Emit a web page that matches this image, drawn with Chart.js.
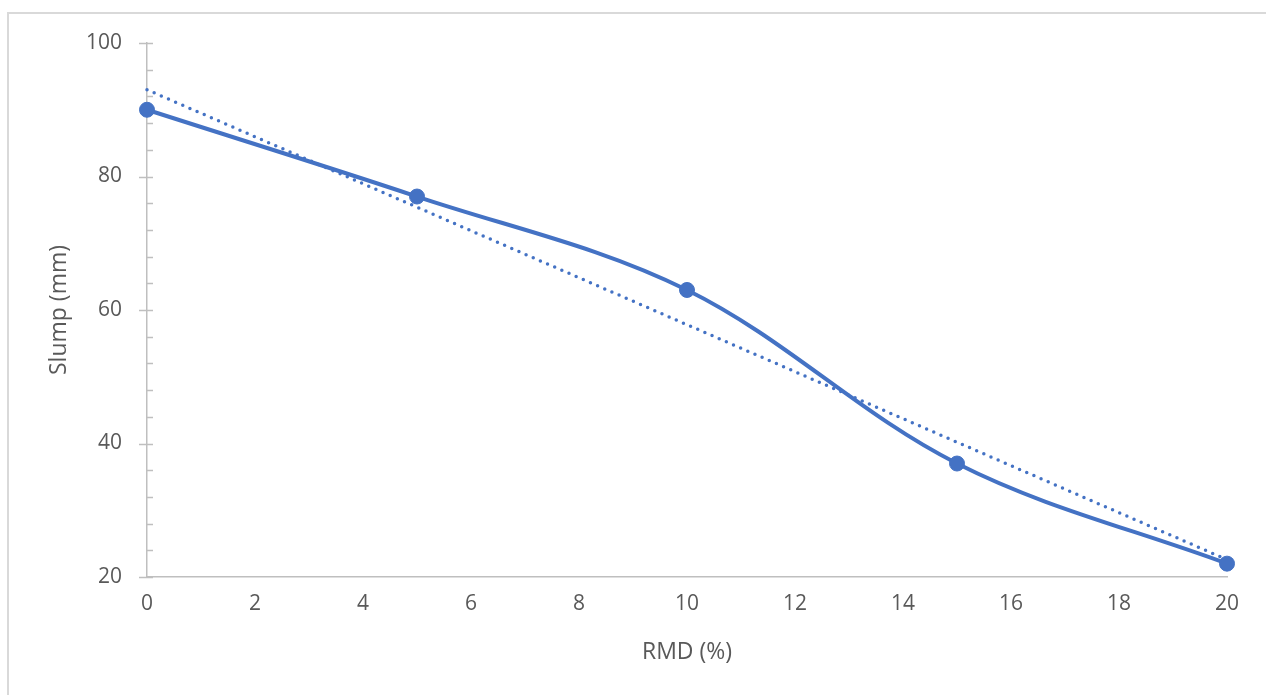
<!DOCTYPE html>
<html>
<head>
<meta charset="utf-8">
<script src="https://cdn.jsdelivr.net/npm/chart.js@4"></script>
<style>
    body { margin: 0; background: #fff; }
    .frame {
        position: absolute; left: 7px; top: 12px; width: 1300px; height: 700px;
        border-top: 2px solid #d9d9d9; border-left: 2px solid #d9d9d9;
    }
    .wrap { position: absolute; left: 0; top: 0; width: 1266px; height: 695px; }
</style>
</head>
<body>
<div class="frame"></div>
<div class="wrap"><canvas id="chart_slump" width="1266" height="695"></canvas></div>
<script>
const rmd = [0, 5, 10, 15, 20];
const slump = [90, 77, 63, 37, 22];
// linear trend end points
const trendX = [0, 20];
const trendY = [93, 22.6];

const blue = '#4472C4';
const grey = '#595959';
const axisGrey = '#BFBFBF';
const tickFont = { family: 'Open Sans', size: 21 };
const titleFont = { family: 'Open Sans', size: 23 };

const toPoints = (xs, ys) => xs.map((x, i) => ({ x: x, y: ys[i] }));

// Y axis tick marks: major ones cross the axis, minor ones sit inside
const axisTicks = {
    id: 'axisTicks',
    afterDraw(chart) {
        const ctx = chart.ctx;
        const y = chart.scales.y;
        const x0 = chart.scales.x.getPixelForValue(0);
        ctx.save();
        ctx.strokeStyle = axisGrey;
        ctx.lineWidth = 1.5;
        for (let v = 20; v <= 100; v += 4) {
            const py = Math.round(y.getPixelForValue(v)) + 0.5;
            const major = v % 20 === 0;
            ctx.beginPath();
            ctx.moveTo(x0 - (major ? 8 : 0), py);
            ctx.lineTo(x0 + 6, py);
            ctx.stroke();
        }
        ctx.restore();
    }
};

new Chart(document.getElementById('chart_slump').getContext('2d'), {
    type: 'line',
    data: {
        datasets: [
            {
                label: 'Slump',
                data: toPoints(rmd, slump),
                borderColor: blue,
                backgroundColor: blue,
                borderWidth: 4,
                tension: 0.35,
                pointRadius: 7.5,
                pointBorderWidth: 1,
                pointHoverRadius: 7.5,
                clip: false,
                order: 1
            },
            {
                label: 'Linear (Slump)',
                data: toPoints(trendX, trendY),
                borderColor: blue,
                borderWidth: 3.5,
                borderCapStyle: 'round',
                borderDash: [0, 7.8],
                pointRadius: 0,
                tension: 0,
                clip: false,
                order: 2
            }
        ]
    },
    options: {
        responsive: false,
        animation: false,
        layout: { padding: { top: 43, right: 39, left: 0, bottom: 0 } },
        plugins: {
            legend: { display: false },
            tooltip: { enabled: false }
        },
        scales: {
            x: {
                type: 'linear',
                min: 0,
                max: 20,
                afterFit: (scale) => { scale.height = 118; },
                grid: { display: false, drawTicks: false },
                border: { color: axisGrey, width: 1.5 },
                ticks: { stepSize: 2, color: grey, font: tickFont, padding: 14 },
                title: {
                    display: true,
                    text: 'RMD (%)',
                    color: grey,
                    font: titleFont,
                    padding: { top: 0, bottom: 29 }
                }
            },
            y: {
                min: 20,
                max: 100,
                afterFit: (scale) => { scale.width = 147; },
                grid: { display: false, drawTicks: false },
                border: { color: axisGrey, width: 1.5 },
                ticks: { stepSize: 20, color: grey, font: tickFont, padding: 25 },
                title: {
                    display: true,
                    text: 'Slump (mm)',
                    color: grey,
                    font: titleFont,
                    padding: { top: 46, bottom: 0 }
                }
            }
        }
    },
    plugins: [axisTicks]
});
</script>
</body>
</html>
